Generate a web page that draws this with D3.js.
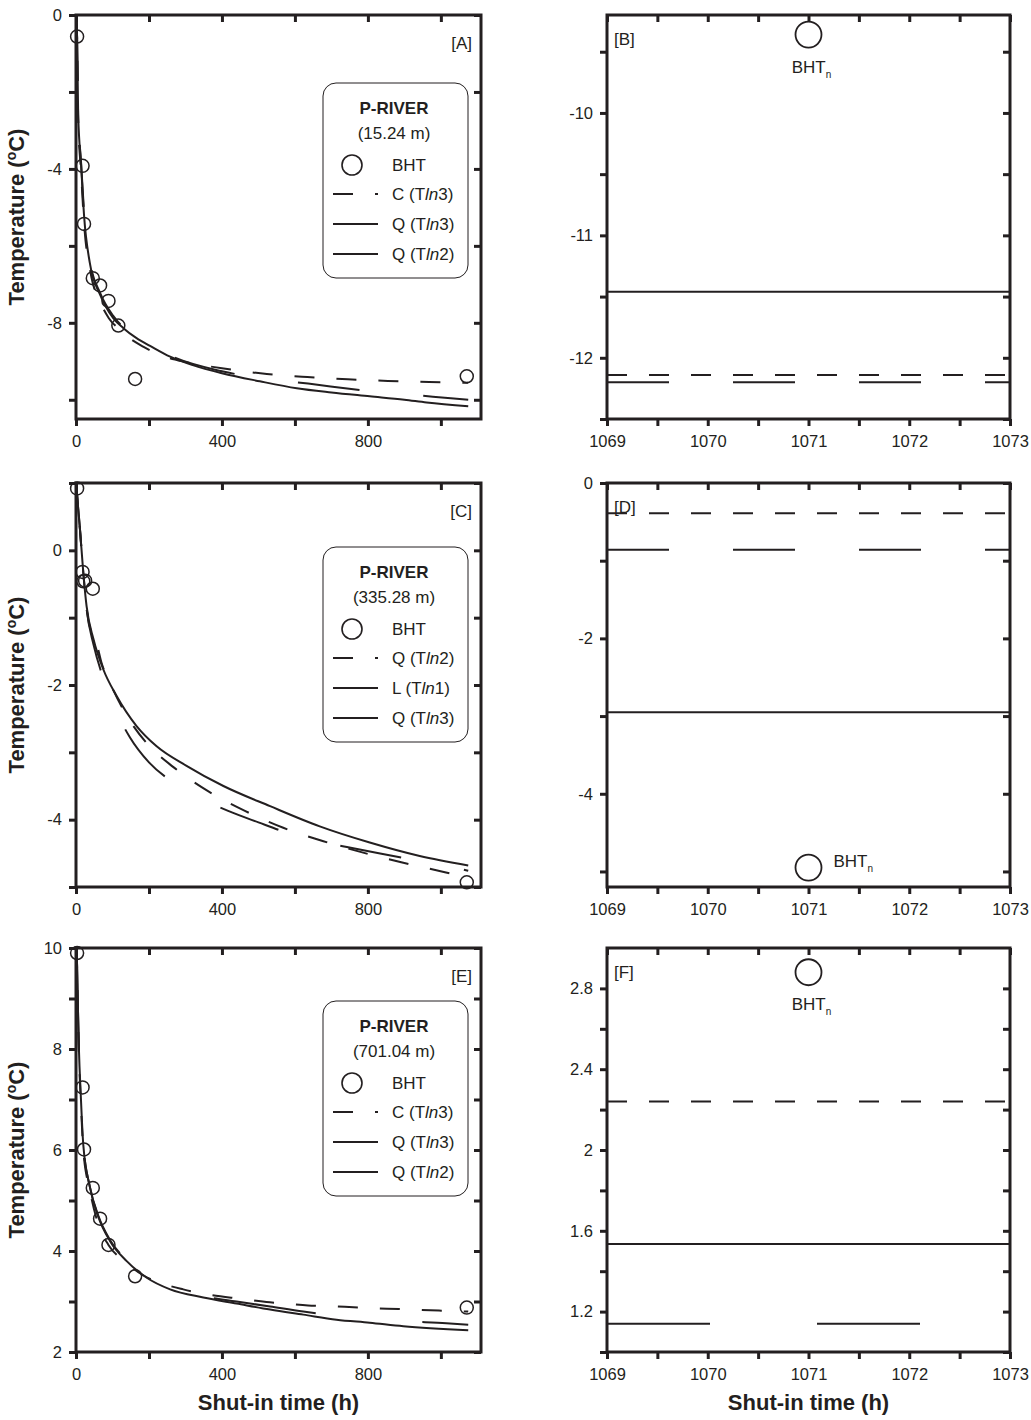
<!DOCTYPE html>
<html>
<head>
<meta charset="utf-8">
<script src="https://cdn.jsdelivr.net/npm/d3@7"></script>
<style>
  body { margin: 0; background: #fff; }
  text { font-family: "Liberation Sans", Arial, sans-serif; fill: #231f20; }
</style>
</head>
<body>
<svg id="chart" width="1031" height="1420"></svg>
<script>
// ---- data (shut-in time in h, temperature in C) ----

// BHT measurements
const bhtTimeA = [3, 18, 22, 46, 66, 89, 116, 162, 1071];
const bhtTempA = [-0.56, -3.92, -5.43, -6.84, -7.03, -7.43, -8.07, -9.46, -9.39];
const bhtTimeC = [3, 18, 20, 25, 46, 1071];
const bhtTempC = [0.92, -0.32, -0.46, -0.45, -0.57, -4.93];
const bhtTimeE = [3, 18, 22, 46, 66, 89, 162, 1071];
const bhtTempE = [9.9, 7.24, 6.01, 5.25, 4.64, 4.12, 3.5, 2.88];

// fitted curves, 15.24 m
const curveA_C3 = [[1.5,-0.1],[3,-0.6],[6,-2.7],[14,-4.1],[22,-5.4],[40,-6.7],[66,-7.45],[90,-7.88],[120,-8.18],[150,-8.42],[184,-8.62],[235,-8.85],[300,-9.02],[400,-9.18],[523,-9.33],[634,-9.41],[745,-9.47],[855,-9.51],[968,-9.54],[1075,-9.56]];
const curveA_Q3 = [[1.5,-0.1],[3,-0.6],[6,-2.6],[14,-3.9],[22,-5.2],[38,-6.45],[66,-7.27],[102,-7.88],[130,-8.14],[166,-8.4],[203,-8.6],[258,-8.88],[320,-9.1],[400,-9.31],[504,-9.52],[605,-9.7],[700,-9.81],[805,-9.91],[900,-10.0],[961,-10.07],[1075,-10.17]];
const curveA_Q2 = [[1.5,-0.1],[3,-0.6],[6,-2.5],[14,-3.85],[22,-5.1],[38,-6.4],[66,-7.22],[102,-7.82],[166,-8.35],[258,-8.85],[400,-9.26],[520,-9.45],[636,-9.58],[800,-9.77],[978,-9.92],[1075,-10.0]];

// fitted curves, 335.28 m
const curveC_Q2 = [[1,0.98],[2,0.9],[11,0.3],[20,-0.33],[29,-0.85],[48,-1.3],[57,-1.4],[70,-1.67],[100,-2.05],[150,-2.55],[200,-2.9],[267,-3.22],[363,-3.58],[463,-3.87],[568,-4.12],[678,-4.32],[787,-4.49],[897,-4.64],[1011,-4.78],[1075,-4.86]];
const curveC_L1 = [[1,0.98],[2,0.9],[11,0.31],[20,-0.33],[29,-0.83],[48,-1.32],[75,-1.77],[111,-2.16],[166,-2.61],[221,-2.91],[303,-3.2],[404,-3.5],[532,-3.8],[668,-4.1],[805,-4.34],[942,-4.54],[1075,-4.68]];
const curveC_Q3 = [[1,0.98],[2,0.9],[11,0.3],[20,-0.35],[29,-0.87],[48,-1.4],[75,-1.9],[111,-2.4],[148,-2.78],[200,-3.15],[262,-3.43],[340,-3.68],[417,-3.87],[500,-4.04],[577,-4.19],[660,-4.31],[746,-4.41],[830,-4.5],[910,-4.58],[1000,-4.66],[1075,-4.76]];

// fitted curves, 701.04 m
const curveE_C3 = [[1,10.0],[2,9.9],[5,8.8],[8,7.9],[13,7.0],[20,6.0],[38,5.2],[60,4.55],[89,4.12],[134,3.79],[184,3.52],[235,3.36],[294,3.24],[344,3.16],[454,3.05],[522,2.99],[573,2.96],[636,2.92],[687,2.91],[775,2.88],[885,2.85],[995,2.82],[1075,2.8]];
const curveE_Q3 = [[1,10.0],[2,9.9],[5,8.9],[8,8.0],[13,7.1],[20,6.1],[38,5.27],[61,4.68],[93,4.2],[139,3.8],[194,3.47],[258,3.24],[349,3.08],[440,2.96],[532,2.84],[623,2.74],[714,2.64],[805,2.58],[897,2.51],[1075,2.43]];
const curveE_Q2 = [[1,10.0],[2,9.9],[5,8.9],[8,8.0],[13,7.1],[20,6.1],[38,5.27],[61,4.7],[93,4.22],[139,3.82],[194,3.49],[258,3.26],[349,3.1],[440,3.0],[532,2.9],[623,2.8],[714,2.72],[805,2.66],[897,2.61],[1015,2.57],[1075,2.54]];

// equilibrium levels shown in the zoomed panels
const levelsB = [-12.14, -11.46, -12.2];
const levelsD = [-0.39, -2.95, -0.86];
const levelsF = [2.24, 1.535, 1.14];
const bhtnTime = 1071;
const bhtnB = -9.36;
const bhtnD = -4.95;
const bhtnF = 2.88;

// legend texts
const legendA = ["C (Tln3)", "Q (Tln3)", "Q (Tln2)"];
const legendC = ["Q (Tln2)", "L (Tln1)", "Q (Tln3)"];
const legendE = ["C (Tln3)", "Q (Tln3)", "Q (Tln2)"];
const depthA = "(15.24 m)";
const depthC = "(335.28 m)";
const depthE = "(701.04 m)";

// axis ticks
const leftXTicks = d3.range(0, 1001, 200);
const leftXLabels = [0, 400, 800];
const rightXTicks = d3.range(1069, 1073.01, 0.5);
const rightXLabels = [1069, 1070, 1071, 1072, 1073];
const yTicksA = d3.range(0, -10.01, -2), yLabelsA = [0, -4, -8];
const yTicksC = d3.range(1, -5.01, -1), yLabelsC = [0, -2, -4];
const yTicksE = d3.range(2, 10.01, 1), yLabelsE = [2, 4, 6, 8, 10];
const yTicksB = d3.range(-9.5, -12.51, -0.5), yLabelsB = [-10, -11, -12];
const yTicksD = d3.range(0, -5.01, -1), yLabelsD = [0, -2, -4];
const yTicksF = [1.0, 1.2, 1.4, 1.6, 1.8, 2.0, 2.2, 2.4, 2.6, 2.8], yLabelsF = [1.2, 1.6, 2, 2.4, 2.8];

// ---- drawing ----
const ink = "#231f20";
const svg = d3.select("#chart");
const H = 404;
const DASH = "20,22", LONG = "62,64", LONG2 = "103,107";

function fmt(labels) {
    return d => labels.some(l => Math.abs(l - d) < 1e-9) ? String(+d.toFixed(2)) : "";
}

function frame(g, cfg) {
    const x = d3.scaleLinear().domain(cfg.xDomain).range([0, cfg.w]);
    const y = d3.scaleLinear().domain(cfg.yDomain).range([H, 0]);

    g.append("clipPath").attr("id", "clip" + cfg.id)
        .append("rect").attr("width", cfg.w).attr("height", H);

    const axes = [
        g.append("g").attr("transform", `translate(0,${H})`)
            .call(d3.axisBottom(x).tickValues(cfg.xTicks).tickSize(7).tickPadding(9).tickFormat(fmt(cfg.xLabels))),
        g.append("g")
            .call(d3.axisTop(x).tickValues(cfg.xTicks).tickSize(-7).tickFormat("")),
        g.append("g")
            .call(d3.axisLeft(y).tickValues(cfg.yTicks).tickSize(7).tickPadding(7).tickFormat(fmt(cfg.yLabels))),
        g.append("g").attr("transform", `translate(${cfg.w},0)`)
            .call(d3.axisRight(y).tickValues(cfg.yTicks).tickSize(-7).tickFormat(""))
    ];
    axes.forEach(a => {
        a.select(".domain").remove();
        a.selectAll(".tick line").attr("stroke", ink).attr("stroke-width", 3);
        a.selectAll(".tick text").attr("font-size", 16.5).attr("fill", ink)
            .style("font-family", '"Liberation Sans", Arial, sans-serif');
    });

    g.append("rect").attr("width", cfg.w).attr("height", H)
        .attr("fill", "none").attr("stroke", ink).attr("stroke-width", 3);

    return {x, y};
}

function lnLabel(sel, s) {
    const m = s.match(/^(.*T)(ln)(.*)$/);
    sel.append("tspan").text(m[1]);
    sel.append("tspan").attr("font-style", "italic").text(m[2]);
    sel.append("tspan").text(m[3]);
}

function legend(g, lx, ly, depth, labels, styles) {
    const lg = g.append("g").attr("transform", `translate(${lx},${ly})`);
    lg.append("rect").attr("width", 145).attr("height", 195).attr("rx", 13)
        .attr("fill", "#fff").attr("stroke", ink).attr("stroke-width", 1);
    lg.append("text").attr("x", 71).attr("y", 31).attr("text-anchor", "middle")
        .attr("font-size", 17).attr("font-weight", "bold").text("P-RIVER");
    lg.append("text").attr("x", 71).attr("y", 56).attr("text-anchor", "middle")
        .attr("font-size", 17).text(depth);
    lg.append("circle").attr("cx", 29).attr("cy", 82).attr("r", 10)
        .attr("fill", "none").attr("stroke", ink).attr("stroke-width", 1.6);
    lg.append("text").attr("x", 69).attr("y", 88).attr("font-size", 17).text("BHT");
    labels.forEach((lab, i) => {
        const yy = 111 + i * 30;
        lg.append("line").attr("x1", 10).attr("x2", 55).attr("y1", yy).attr("y2", yy)
            .attr("stroke", ink).attr("stroke-width", 2)
            .attr("stroke-dasharray", styles[i]);
        lnLabel(lg.append("text").attr("x", 69).attr("y", yy + 6).attr("font-size", 17), lab);
    });
}

function curvePanel(cfg) {
    const g = svg.append("g").attr("transform", `translate(${cfg.x0},${cfg.y0})`);
    const {x, y} = frame(g, cfg);
    const line = d3.line().x(d => x(d[0])).y(d => y(d[1])).curve(d3.curveMonotoneX);
    const cg = g.append("g").attr("clip-path", `url(#clip${cfg.id})`);
    cfg.curves.forEach((c, i) => {
        cg.append("path").datum(c).attr("d", line)
            .attr("fill", "none").attr("stroke", ink).attr("stroke-width", 2)
            .attr("stroke-dasharray", cfg.styles[i]);
    });
    g.selectAll("circle.bht").data(d3.zip(cfg.bt, cfg.bT)).join("circle")
        .attr("class", "bht")
        .attr("cx", d => x(d[0])).attr("cy", d => y(d[1])).attr("r", 6.5)
        .attr("fill", "none").attr("stroke", ink).attr("stroke-width", 1.5);
    g.append("text").attr("x", cfg.w - 9).attr("y", 34).attr("text-anchor", "end")
        .attr("font-size", 17).text(cfg.tag);
    legend(g, 247, cfg.legendTop, cfg.depth, cfg.labels, cfg.legendStyles);
    g.append("text")
        .attr("transform", `translate(${24 - cfg.x0},${H / 2}) rotate(-90)`)
        .attr("text-anchor", "middle").attr("font-size", 22).attr("font-weight", "bold")
        .call(t => {
            t.append("tspan").text("Temperature (");
            t.append("tspan").attr("font-size", 14).attr("dy", -8).text("o");
            t.append("tspan").attr("dy", 8).text("C)");
        });
    return g;
}

function levelPanel(cfg) {
    const g = svg.append("g").attr("transform", `translate(${cfg.x0},${cfg.y0})`);
    const {x, y} = frame(g, cfg);
    const line = d3.line().x(d => x(d[0])).y(d => y(d[1]));
    cfg.levels.forEach((v, i) => {
        g.append("path").datum([[cfg.xDomain[0], v], [cfg.xDomain[1], v]]).attr("d", line)
            .attr("fill", "none").attr("stroke", ink).attr("stroke-width", 2)
            .attr("stroke-dasharray", cfg.styles[i]);
    });
    const cx = x(bhtnTime), cy = y(cfg.bhtn);
    g.append("circle").attr("cx", cx).attr("cy", cy).attr("r", 13)
        .attr("fill", "#fff").attr("stroke", ink).attr("stroke-width", 1.8);
    const lab = g.append("text").attr("font-size", 17);
    if (cfg.labelRight) {
        lab.attr("x", cx + 25).attr("y", cy - 1);
    } else {
        lab.attr("x", cx + 3).attr("y", cy + 38).attr("text-anchor", "middle");
    }
    lab.append("tspan").text("BHT");
    lab.append("tspan").attr("font-size", 10).attr("dy", 5).text("n");
    g.append("text").attr("x", 7).attr("y", 30).attr("font-size", 17).text(cfg.tag);
    return g;
}

const leftW = 405, rightW = 403;
const tops = [15, 483, 948];

curvePanel({id: "A", tag: "[A]", x0: 76, y0: tops[0], w: leftW,
    xDomain: [0, 1110], yDomain: [-10.5, 0],
    xTicks: leftXTicks, xLabels: leftXLabels, yTicks: yTicksA, yLabels: yLabelsA,
    curves: [curveA_C3, curveA_Q3, curveA_Q2], styles: [DASH, null, LONG],
    bt: bhtTimeA, bT: bhtTempA, legendTop: 68, depth: depthA, labels: legendA,
    legendStyles: [DASH, null, LONG]});

curvePanel({id: "C", tag: "[C]", x0: 76, y0: tops[1], w: leftW,
    xDomain: [0, 1110], yDomain: [-5, 1],
    xTicks: leftXTicks, xLabels: leftXLabels, yTicks: yTicksC, yLabels: yLabelsC,
    curves: [curveC_Q2, curveC_L1, curveC_Q3], styles: [DASH, null, LONG],
    bt: bhtTimeC, bT: bhtTempC, legendTop: 64, depth: depthC, labels: legendC,
    legendStyles: [DASH, null, LONG]});

curvePanel({id: "E", tag: "[E]", x0: 76, y0: tops[2], w: leftW,
    xDomain: [0, 1110], yDomain: [2, 10],
    xTicks: leftXTicks, xLabels: leftXLabels, yTicks: yTicksE, yLabels: yLabelsE,
    curves: [curveE_C3, curveE_Q3, curveE_Q2], styles: [DASH, null, LONG2],
    bt: bhtTimeE, bT: bhtTempE, legendTop: 53, depth: depthE, labels: legendE,
    legendStyles: [DASH, null, LONG2]});

levelPanel({id: "B", tag: "[B]", x0: 607, y0: tops[0], w: rightW,
    xDomain: [1069, 1073], yDomain: [-12.5, -9.2],
    xTicks: rightXTicks, xLabels: rightXLabels, yTicks: yTicksB, yLabels: yLabelsB,
    levels: levelsB, styles: [DASH, null, LONG], bhtn: bhtnB});

levelPanel({id: "D", tag: "[D]", x0: 607, y0: tops[1], w: rightW,
    xDomain: [1069, 1073], yDomain: [-5.2, 0],
    xTicks: rightXTicks, xLabels: rightXLabels, yTicks: yTicksD, yLabels: yLabelsD,
    levels: levelsD, styles: [DASH, null, LONG], bhtn: bhtnD, labelRight: true});

levelPanel({id: "F", tag: "[F]", x0: 607, y0: tops[2], w: rightW,
    xDomain: [1069, 1073], yDomain: [1.0, 3.0],
    xTicks: rightXTicks, xLabels: rightXLabels, yTicks: yTicksF, yLabels: yLabelsF,
    levels: levelsF, styles: [DASH, null, LONG2], bhtn: bhtnF});

// x-axis titles under the bottom row
[[76 + leftW / 2], [607 + rightW / 2]].forEach(([cx]) => {
    svg.append("text").attr("x", cx).attr("y", 1410).attr("text-anchor", "middle")
        .attr("font-size", 22).attr("font-weight", "bold").text("Shut-in time (h)");
});
</script>
</body>
</html>
